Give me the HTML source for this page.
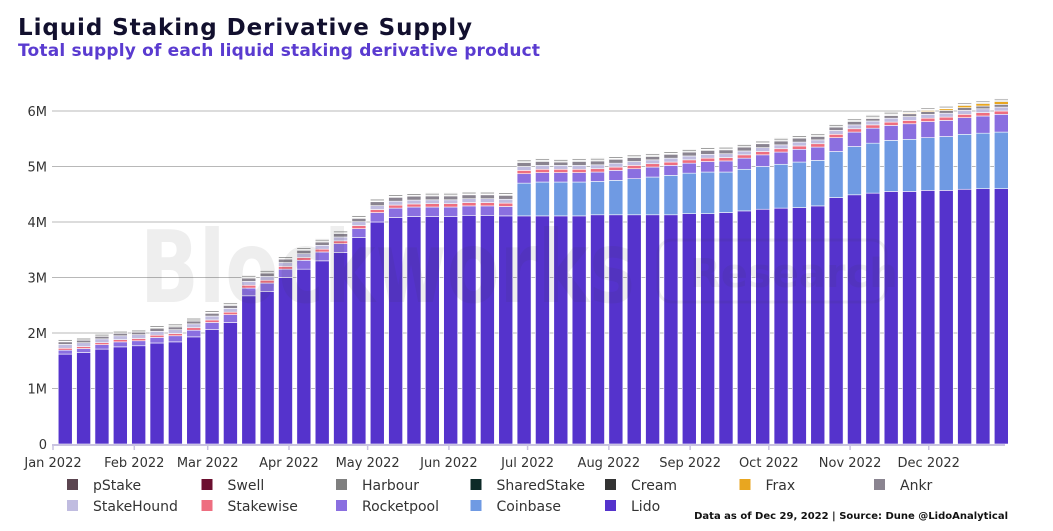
<!DOCTYPE html>
<html><head><meta charset="utf-8"><style>
body{margin:0;background:#fff;width:1053px;height:531px;overflow:hidden}
svg{display:block;font-family:"DejaVu Sans","Liberation Sans",sans-serif}
</style></head><body>
<svg id="chart" width="1053" height="531" viewBox="0 0 1053 531">
<text x="18" y="35" font-size="23" font-weight="bold" fill="#12102e" textLength="454">Liquid Staking Derivative Supply</text>
<text x="18" y="56" font-size="17" font-weight="bold" fill="#5a3bd0" textLength="522">Total supply of each liquid staking derivative product</text>
<g id="grid"></g>
<g id="bars"></g>
<g id="watermark" opacity="0.08">
<text x="140" y="302" font-size="100" font-weight="bold" fill="#333" textLength="495" lengthAdjust="spacingAndGlyphs">Blockworks</text>
<rect x="658" y="240" width="228" height="62" rx="14" fill="none" stroke="#333" stroke-width="3"/>
<text x="690" y="287" font-size="40" font-weight="bold" fill="#333">Research</text>
</g>
<g id="axes"></g>
<g id="legend"></g>
<text x="1008" y="519" font-size="10" font-weight="bold" fill="#111" text-anchor="end">Data as of Dec 29, 2022 | Source: Dune @LidoAnalytical</text>
</svg>
<script>
const yTicks=[0,1,2,3,4,5,6];
const yTickLabels=["0","1M","2M","3M","4M","5M","6M"];
const monthLabels=["Jan 2022","Feb 2022","Mar 2022","Apr 2022","May 2022","Jun 2022","Jul 2022","Aug 2022","Sep 2022","Oct 2022","Nov 2022","Dec 2022"];
const monthStartDays=[0,31,59,90,120,151,181,212,243,273,304,334];
const weekStartDays=[2,9,16,23,30,37,44,51,58,65,72,79,86,93,100,107,114,121,128,135,142,149,156,163,170,177,184,191,198,205,212,219,226,233,240,247,254,261,268,275,282,289,296,303,310,317,324,331,338,345,352,359];
const seriesNames=["Lido","Coinbase","Rocketpool","Stakewise","StakeHound","Ankr","Frax","Cream","SharedStake","Harbour","Swell","pStake"];
const lido=[1.62,1.65,1.71,1.75,1.77,1.82,1.84,1.93,2.06,2.19,2.67,2.75,3.0,3.15,3.3,3.45,3.72,4.0,4.08,4.1,4.1,4.1,4.12,4.12,4.11,4.11,4.11,4.11,4.11,4.13,4.13,4.13,4.13,4.13,4.15,4.15,4.17,4.2,4.23,4.25,4.26,4.29,4.44,4.49,4.52,4.55,4.55,4.57,4.57,4.59,4.6,4.6];
const coinbase=[0,0,0,0,0,0,0,0,0,0,0,0,0,0,0,0,0,0,0,0,0,0,0,0,0,0.59,0.61,0.61,0.61,0.6,0.62,0.65,0.68,0.71,0.73,0.75,0.73,0.75,0.77,0.79,0.82,0.82,0.83,0.87,0.9,0.92,0.94,0.95,0.97,0.99,1.0,1.02];
const rocketpool=[0.07,0.07,0.08,0.09,0.09,0.1,0.11,0.12,0.13,0.14,0.14,0.15,0.15,0.16,0.16,0.16,0.16,0.17,0.17,0.17,0.17,0.17,0.17,0.17,0.17,0.17,0.17,0.17,0.17,0.17,0.18,0.18,0.18,0.18,0.18,0.19,0.2,0.2,0.21,0.22,0.23,0.24,0.25,0.26,0.27,0.27,0.28,0.29,0.29,0.3,0.31,0.32];
const stakewise=[0.035,0.035,0.035,0.04,0.04,0.04,0.04,0.045,0.045,0.045,0.05,0.05,0.05,0.05,0.05,0.05,0.055,0.055,0.055,0.055,0.06,0.06,0.06,0.06,0.06,0.06,0.06,0.06,0.06,0.06,0.06,0.06,0.06,0.06,0.06,0.06,0.06,0.06,0.06,0.06,0.06,0.06,0.06,0.06,0.06,0.06,0.06,0.06,0.06,0.06,0.06,0.06];
const stakehound=[0.07,0.07,0.07,0.07,0.07,0.07,0.07,0.07,0.07,0.07,0.07,0.07,0.07,0.07,0.07,0.07,0.07,0.07,0.07,0.07,0.07,0.07,0.07,0.07,0.07,0.07,0.07,0.07,0.07,0.07,0.07,0.07,0.07,0.07,0.07,0.07,0.07,0.07,0.07,0.07,0.07,0.07,0.07,0.07,0.07,0.07,0.07,0.07,0.07,0.07,0.07,0.07];
const ankr=[0.05,0.05,0.05,0.05,0.05,0.05,0.05,0.05,0.05,0.05,0.06,0.06,0.06,0.06,0.06,0.06,0.06,0.07,0.07,0.07,0.07,0.07,0.07,0.07,0.07,0.07,0.07,0.06,0.07,0.07,0.07,0.07,0.06,0.07,0.07,0.07,0.07,0.07,0.07,0.07,0.07,0.06,0.06,0.06,0.05,0.05,0.05,0.05,0.05,0.05,0.05,0.05];
const frax=[0,0,0,0,0,0,0,0,0,0,0,0,0,0,0,0,0,0,0,0,0,0,0,0,0,0,0,0,0,0,0,0,0,0,0,0,0,0,0,0,0,0,0,0,0.005,0.01,0.015,0.02,0.03,0.04,0.045,0.05];
const cream=[0,0,0,0,0,0.02,0.02,0.02,0.015,0.015,0.015,0.015,0.015,0.015,0.015,0.015,0.015,0.015,0.015,0.015,0.015,0.015,0.015,0.015,0.015,0.015,0.015,0.015,0.015,0.015,0.015,0.015,0.015,0.015,0.015,0.015,0.015,0.015,0.015,0.015,0.015,0.015,0.015,0.015,0.015,0.015,0.015,0.015,0.015,0.015,0.015,0.015];
const sharedstake=[0.005,0.005,0.005,0.005,0.005,0.005,0.005,0.005,0.005,0.005,0.005,0.005,0.005,0.005,0.005,0.005,0.005,0.005,0.005,0.005,0.005,0.005,0.005,0.005,0.005,0.005,0.005,0.005,0.005,0.005,0.005,0.005,0.005,0.005,0.005,0.005,0.005,0.005,0.005,0.005,0.005,0.005,0.005,0.005,0.005,0.005,0.005,0.005,0.005,0.005,0.005,0.005];
const harbour=[0.03,0.03,0.03,0.03,0.03,0.03,0.03,0.03,0.03,0.03,0.03,0.03,0.03,0.03,0.03,0.03,0.03,0.03,0.03,0.03,0.03,0.03,0.03,0.03,0.03,0.03,0.03,0.03,0.03,0.03,0.03,0.03,0.03,0.03,0.03,0.03,0.03,0.03,0.03,0.03,0.03,0.03,0.03,0.03,0.03,0.03,0.03,0.03,0.03,0.03,0.03,0.03];
const swell=[0,0,0,0,0,0,0,0,0,0,0,0,0,0,0,0,0,0,0,0,0,0,0,0,0,0,0,0,0,0,0,0,0,0,0,0,0,0,0,0,0,0,0,0,0,0,0.003,0.003,0.003,0.003,0.003,0.003];
const pstake=[0.005,0.005,0.005,0.005,0.005,0.005,0.005,0.005,0.005,0.005,0.005,0.005,0.005,0.005,0.005,0.005,0.005,0.005,0.005,0.005,0.005,0.005,0.005,0.005,0.005,0.005,0.005,0.005,0.005,0.005,0.005,0.005,0.005,0.005,0.005,0.005,0.005,0.005,0.005,0.005,0.005,0.005,0.005,0.005,0.005,0.005,0.005,0.005,0.005,0.005,0.005,0.005];
const seriesValues=[lido,coinbase,rocketpool,stakewise,stakehound,ankr,frax,cream,sharedstake,harbour,swell,pstake];
const colors={"Lido":"#5533cc","Coinbase":"#6f9ae3","Rocketpool":"#8a6fe0","Stakewise":"#ee6e80","StakeHound":"#c0bce0","Ankr":"#8a8490","Frax":"#e8a620","Cream":"#333333","SharedStake":"#0d2a28","Harbour":"#7f7f7f","Swell":"#6b0f2f","pStake":"#5b4550"};
const legendOrder=[["pStake","Swell","Harbour","SharedStake","Cream","Frax","Ankr"],["StakeHound","Stakewise","Rocketpool","Coinbase","Lido"]];

const NS="http://www.w3.org/2000/svg";
const X0=53, PX_PER_DAY=2.622, Y0=444, PX_PER_M=55.5, BW=14;
function xScale(day){return X0+day*PX_PER_DAY;}
function yScale(v){return Y0-v*PX_PER_M;}
function mk(tag,attrs,parent){const e=document.createElementNS(NS,tag);for(const k in attrs)e.setAttribute(k,attrs[k]);parent.appendChild(e);return e;}

const grid=document.getElementById('grid'), axes=document.getElementById('axes'), bars=document.getElementById('bars'), legend=document.getElementById('legend');
yTicks.forEach((t,i)=>{
  if(t>0){const gl=mk('line',{x1:52,x2:1005,y1:yScale(t),y2:yScale(t),stroke:'#b8b8b8','stroke-width':1},grid);
  
  }
  const tl=mk('text',{x:47,y:yScale(t)+5,'font-size':13,'text-anchor':'end',fill:'#333'},axes);
  tl.textContent=yTickLabels[i];
  
  
});
weekStartDays.forEach((d,i)=>{
  let acc=0;
  const cx=xScale(d)+7;
  seriesValues.forEach((arr,s)=>{
    const v=arr[i]; if(!v) return;
    const y1=yScale(acc+v), y2=yScale(acc);
    const r=mk('rect',{x:cx-BW/2,y:y1,width:BW,height:Math.max(y2-y1,0.6),fill:colors[seriesNames[s]],stroke:'#fff','stroke-width':0.6},bars);
    
    
    acc+=v;
  });
});
const xl=mk('line',{x1:52,x2:1005,y1:Y0+1,y2:Y0+1,stroke:'#c9c3e0','stroke-width':2},axes);


monthStartDays.forEach((d,i)=>{
  const x=xScale(d);
  const tk=mk('line',{x1:x,x2:x,y1:Y0+1,y2:Y0+6,stroke:'#c9c3e0','stroke-width':1.5},axes);
  
  
  const t=mk('text',{x:x,y:467,'font-size':13,'text-anchor':'middle',fill:'#333'},axes);
  t.textContent=monthLabels[i];
  
  
});
legendOrder.forEach((row,r)=>{
  row.forEach((name,c)=>{
    const g=mk('g',{},legend);
    
    
    const lx=67+c*134.5, ly=479+r*21;
    mk('rect',{x:lx,y:ly,width:11,height:11,fill:colors[name]},g);
    const t=mk('text',{x:lx+26,y:ly+11,'font-size':14,fill:'#333'},g);
    t.textContent=name;
  });
});
</script>
</body></html>
